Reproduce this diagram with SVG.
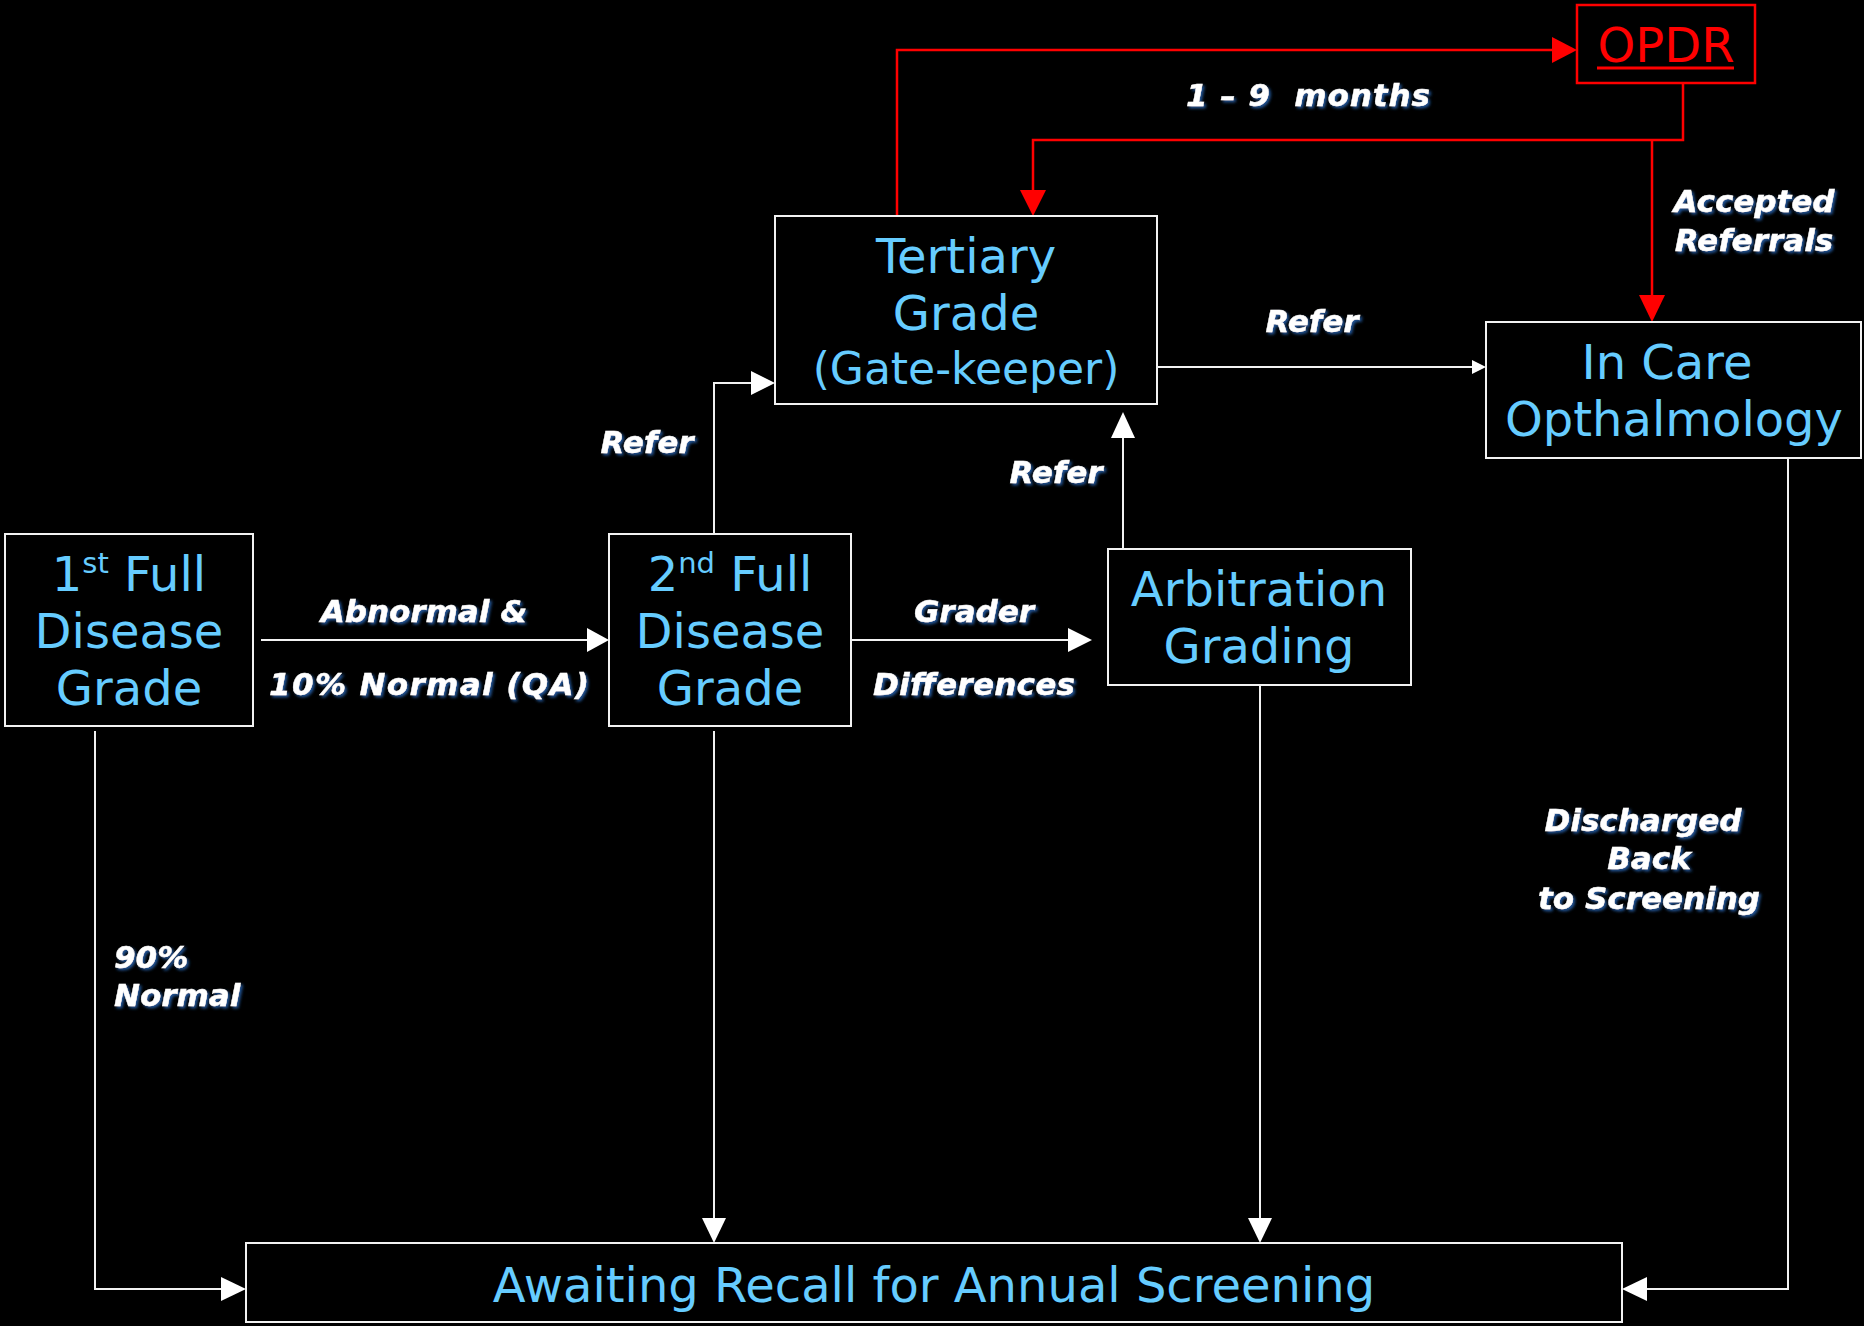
<svg xmlns="http://www.w3.org/2000/svg" width="1864" height="1326" viewBox="0 0 1864 1326">
<style>
.box{fill:#000;stroke:#f2f2f2;stroke-width:2}
.rbox{fill:#000;stroke:#ff0000;stroke-width:2.5}
.nt{font-family:"DejaVu Sans",Verdana,sans-serif;font-size:48px;fill:#66ccff;text-anchor:middle}
.lb{font-family:"DejaVu Sans",Verdana,sans-serif;font-size:31px;font-weight:bold;font-style:italic;fill:#ffffff;stroke:#ffffff;stroke-width:0.4;text-anchor:middle;filter:url(#sh)}
.w{fill:none;stroke:#f2f2f2;stroke-width:2}
.r{fill:none;stroke:#ff0000;stroke-width:2.5}
.wa{fill:#ffffff}
.ra{fill:#ff0000}
</style>
<defs>
<filter id="sh" x="-20%" y="-30%" width="140%" height="170%">
<feDropShadow dx="2" dy="2" stdDeviation="1.6" flood-color="#24569a" flood-opacity="1"/>
</filter>
</defs>
<rect width="1864" height="1326" fill="#000"/>

<g id="connectors">
<line class="w" x1="261" y1="640" x2="590" y2="640"/>
<polygon class="wa" points="609,640 587,628 587,652"/>
<line class="w" x1="851" y1="640" x2="1070" y2="640"/>
<polygon class="wa" points="1092,640 1068,628 1068,652"/>
<polyline class="w" points="714,534 714,383 755,383"/>
<polygon class="wa" points="775,383 751,371 751,395"/>
<line class="w" x1="1123" y1="549" x2="1123" y2="432"/>
<polygon class="wa" points="1123,412 1111,438 1135,438"/>
<line class="w" x1="1154" y1="367" x2="1476" y2="367"/>
<polygon class="wa" points="1486,367 1472,360 1472,374"/>
<polyline class="w" points="95,731 95,1289 226,1289"/>
<polygon class="wa" points="246,1289 221,1277 221,1301"/>
<line class="w" x1="714" y1="731" x2="714" y2="1222"/>
<polygon class="wa" points="714,1243 702,1218 726,1218"/>
<line class="w" x1="1260" y1="686" x2="1260" y2="1222"/>
<polygon class="wa" points="1260,1243 1248,1218 1272,1218"/>
<polyline class="w" points="1788,458 1788,1289 1642,1289"/>
<polygon class="wa" points="1622,1289 1647,1277 1647,1301"/>
<polyline class="r" points="897,216 897,50 1555,50"/>
<polygon class="ra" points="1577,50 1552,37 1552,63"/>
<polyline class="r" points="1683,83 1683,140 1033,140 1033,195"/>
<polygon class="ra" points="1033,216 1020,190 1046,190"/>
<line class="r" x1="1652" y1="140" x2="1652" y2="300"/>
<polygon class="ra" points="1652,322 1639,295 1665,295"/>
</g>

<g id="node-first">
<rect class="box" x="5" y="534" width="248" height="192"/>
<text class="nt" x="129" y="591">1<tspan font-size="29" dy="-18">st</tspan><tspan dy="18"> Full</tspan></text>
<text class="nt" x="129" y="648">Disease</text>
<text class="nt" x="129" y="705">Grade</text>
</g>

<g id="node-second">
<rect class="box" x="609" y="534" width="242" height="192"/>
<text class="nt" x="730" y="591">2<tspan font-size="29" dy="-18">nd</tspan><tspan dy="18"> Full</tspan></text>
<text class="nt" x="730" y="648">Disease</text>
<text class="nt" x="730" y="705">Grade</text>
</g>

<g id="node-tertiary">
<rect class="box" x="775" y="216" width="382" height="188"/>
<text class="nt" x="966" y="273">Tertiary</text>
<text class="nt" x="966" y="330">Grade</text>
<text class="nt" x="966" y="384" style="font-size:44px">(Gate-keeper)</text>
</g>

<g id="node-arbitration">
<rect class="box" x="1108" y="549" width="303" height="136"/>
<text class="nt" x="1259" y="606">Arbitration</text>
<text class="nt" x="1259" y="663">Grading</text>
</g>

<g id="node-incare">
<rect class="box" x="1486" y="322" width="375" height="136"/>
<text class="nt" x="1667" y="379">In Care</text>
<text class="nt" x="1674" y="436">Opthalmology</text>
</g>

<g id="node-opdr">
<rect class="rbox" x="1577" y="5" width="178" height="78"/>
<text class="nt" x="1666" y="62" style="fill:#ff0000">OPDR</text>
<line x1="1597" y1="68" x2="1734" y2="68" stroke="#ff0000" stroke-width="3"/>
</g>

<g id="node-awaiting">
<rect class="box" x="246" y="1243" width="1376" height="79"/>
<text class="nt" x="934" y="1302">Awaiting Recall for Annual Screening</text>
</g>

<g id="labels">
<text class="lb" x="424" y="622">Abnormal &amp;</text>
<text class="lb" x="429" y="695" textLength="320" lengthAdjust="spacing">10% Normal (QA)</text>
<text class="lb" x="974" y="622">Grader</text>
<text class="lb" x="974" y="695" textLength="202" lengthAdjust="spacing">Differences</text>
<text class="lb" x="647" y="453">Refer</text>
<text class="lb" x="1056" y="483">Refer</text>
<text class="lb" x="1312" y="332">Refer</text>
<text class="lb" x="1308" y="106" textLength="244" lengthAdjust="spacing">1 – 9&#160; months</text>
<text class="lb" x="1754" y="212">Accepted</text>
<text class="lb" x="1754" y="251">Referrals</text>
<text class="lb" x="1643" y="831">Discharged</text>
<text class="lb" x="1649" y="869">Back</text>
<text class="lb" x="1649" y="909">to Screening</text>
<text class="lb" x="114" y="968" style="text-anchor:start">90%</text>
<text class="lb" x="114" y="1006" style="text-anchor:start">Normal</text>
</g>
</svg>
